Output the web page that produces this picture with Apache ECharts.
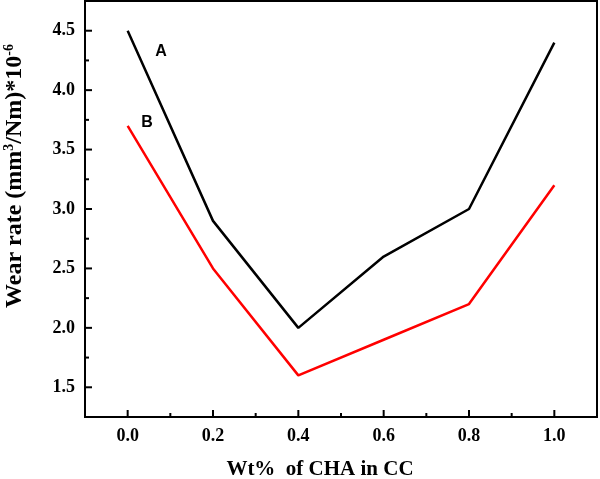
<!DOCTYPE html>
<html>
	<head>
		<meta charset="utf-8">
		<title>Wear rate</title>
		<script src="https://cdn.jsdelivr.net/npm/echarts@6/dist/echarts.min.js"></script>
		<style>
			html, body { margin: 0; padding: 0; background: #fff; }
			#chart { width: 600px; height: 479px; }
		</style>
	</head>
	<body>
		<div id="chart"></div>
		<script>
			// data
			var wtPercent = [0.0, 0.2, 0.4, 0.6, 0.8, 1.0];
			var seriesA = [4.5, 2.9, 2.0, 2.6, 3.0, 4.4];
			var seriesB = [3.7, 2.5, 1.6, 1.9, 2.2, 3.2];
			var xTicks = [0.0, 0.2, 0.4, 0.6, 0.8, 1.0];
			var yTicks = [1.5, 2.0, 2.5, 3.0, 3.5, 4.0, 4.5];

			function pairs(xs, ys) {
				var out = [];
				for (var i = 0; i < xs.length; i++) {
					out.push([xs[i], ys[i]]);
				}
				return out;
			}

			var serif = '"Liberation Serif", "Times New Roman", serif';
			var sans = '"Liberation Sans", Arial, sans-serif';
			var axisLine = { show: true, onZero: false, lineStyle: { color: '#000', width: 2 } };

			var chart = echarts.init(document.getElementById('chart'));
			var option = {
				animation: false,
				backgroundColor: '#fff',
				grid: { left: 85, right: 3, top: 1, bottom: 62, show: true, borderColor: '#000', borderWidth: 2 },
				xAxis: {
					type: 'value',
					min: -0.1,
					max: 1.1,
					interval: 0.1,
					axisLine: axisLine,
					axisTick: { show: false },
					splitLine: { show: false },
					axisLabel: {
						margin: 10,
						color: '#000',
						fontFamily: serif,
						fontWeight: 'bold',
						fontSize: 18,
						showMinLabel: false,
						showMaxLabel: false,
						formatter: function (v) {
							var r = Math.round(v * 10) / 10;
							return xTicks.indexOf(r) >= 0 && Math.round(r * 10) % 2 === 0 ? r.toFixed(1) : '';
						}
					}
				},
				yAxis: {
					type: 'value',
					min: 1.25,
					max: 4.75,
					interval: 0.25,
					axisLine: axisLine,
					axisTick: { show: false },
					splitLine: { show: false },
					axisLabel: {
						margin: 10,
						color: '#000',
						fontFamily: serif,
						fontWeight: 'bold',
						fontSize: 18,
						formatter: function (v) {
							var r = Math.round(v * 100) / 100;
							return yTicks.indexOf(r) >= 0 ? r.toFixed(1) : '';
						}
					}
				},
				graphic: [
					{
						type: 'text',
						x: 15,
						y: 176,
						rotation: Math.PI / 2,
						style: {
							text: '{t|Wear rate (mm}{s|3}{t|/Nm)*10}{s|-6}',
							textAlign: 'center',
							textVerticalAlign: 'middle',
							rich: {
								t: { fontFamily: serif, fontWeight: 'bold', fontSize: 24, fill: '#000' },
								s: { fontFamily: serif, fontWeight: 'bold', fontSize: 14, fill: '#000', padding: [0, 0, 12, 0] }
							}
						}
					},
					{
						type: 'text',
						x: 320,
						y: 470,
						style: {
							text: 'Wt%  of CHA in CC',
							textAlign: 'center',
							textVerticalAlign: 'middle',
							fontFamily: serif,
							fontWeight: 'bold',
							fontSize: 21,
							fill: '#000'
						}
					},
					{
						type: 'text',
						x: 161,
						y: 52,
						style: {
							text: 'A',
							textAlign: 'center',
							textVerticalAlign: 'middle',
							fontFamily: sans,
							fontWeight: 'bold',
							fontSize: 16,
							fill: '#000'
						}
					},
					{
						type: 'text',
						x: 147,
						y: 123,
						style: {
							text: 'B',
							textAlign: 'center',
							textVerticalAlign: 'middle',
							fontFamily: sans,
							fontWeight: 'bold',
							fontSize: 16,
							fill: '#000'
						}
					}
				],
				series: [
					{
						name: 'A',
						type: 'line',
						data: pairs(wtPercent, seriesA),
						symbol: 'none',
						lineStyle: { color: '#000', width: 2.5 },
						z: 3
					},
					{
						name: 'B',
						type: 'line',
						data: pairs(wtPercent, seriesB),
						symbol: 'none',
						lineStyle: { color: '#ff0000', width: 2.5 },
						z: 3
					}
				]
			};
			chart.setOption(option);

			// inward ticks: major every labelled value, minor in between
			function drawTicks() {
				var g = [];
				var bottomY = chart.convertToPixel({ gridIndex: 0 }, [0, 1.25])[1];
				var leftX = chart.convertToPixel({ gridIndex: 0 }, [-0.1, 1.25])[0];
				for (var i = 0; i < xTicks.length; i++) {
					var px = chart.convertToPixel({ gridIndex: 0 }, [xTicks[i], 1.25])[0];
					g.push({ type: 'line', shape: { x1: px, y1: bottomY, x2: px, y2: bottomY - 7 }, style: { stroke: '#000', lineWidth: 2 } });
					if (i < xTicks.length - 1) {
						var mx = chart.convertToPixel({ gridIndex: 0 }, [(xTicks[i] + xTicks[i + 1]) / 2, 1.25])[0];
						g.push({ type: 'line', shape: { x1: mx, y1: bottomY, x2: mx, y2: bottomY - 4 }, style: { stroke: '#000', lineWidth: 2 } });
					}
				}
				for (var j = 0; j < yTicks.length; j++) {
					var py = chart.convertToPixel({ gridIndex: 0 }, [-0.1, yTicks[j]])[1];
					g.push({ type: 'line', shape: { x1: leftX, y1: py, x2: leftX + 7, y2: py }, style: { stroke: '#000', lineWidth: 2 } });
					var my = chart.convertToPixel({ gridIndex: 0 }, [-0.1, yTicks[j] + 0.25])[1];
					g.push({ type: 'line', shape: { x1: leftX, y1: my, x2: leftX + 4, y2: my }, style: { stroke: '#000', lineWidth: 2 } });
				}
				chart.setOption({ graphic: option.graphic.concat(g) });
			}
			drawTicks();

			window.onresize = function () {
				chart.resize();
			};
		</script>
	</body>
</html>
